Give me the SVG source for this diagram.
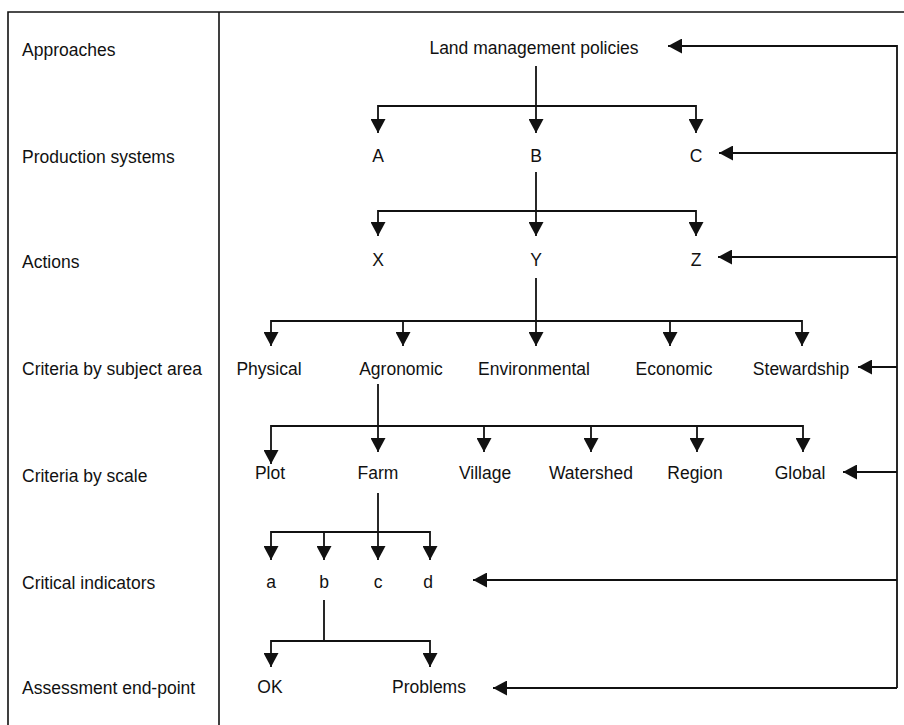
<svg xmlns="http://www.w3.org/2000/svg" width="904" height="725" viewBox="0 0 904 725">
<style>
text { font-family: "Liberation Sans", Arial, sans-serif; font-size: 17.5px; fill: #111; }
.lbl { text-anchor: start; }
.node text { text-anchor: middle; }
.frame { stroke: #111; stroke-width: 1.6; fill: none; }
.conn path { stroke: #111; stroke-width: 1.8; fill: none; marker-end: url(#ah); }
</style>
<defs>
<marker id="ah" markerUnits="userSpaceOnUse" viewBox="0 0 14 15" refX="14" refY="7.5" markerWidth="14" markerHeight="15" orient="auto">
<path d="M0,0 L14,7.5 L0,15 Z" fill="#111"/>
</marker>
</defs>
<rect width="904" height="725" fill="#fff"/>
<g id="frame">
<path class="frame" d="M8,725 V12 H904 M219,12 V725"/>
</g>
<g id="levels">
<text class="lbl" x="22" y="56">Approaches</text>
<text class="lbl" x="22" y="163">Production systems</text>
<text class="lbl" x="22" y="268">Actions</text>
<text class="lbl" x="22" y="375">Criteria by subject area</text>
<text class="lbl" x="22" y="482">Criteria by scale</text>
<text class="lbl" x="22" y="589">Critical indicators</text>
<text class="lbl" x="22" y="694">Assessment end-point</text>
</g>
<g class="conn" id="connectors">
<path d="M536,66 V133"/>
<path d="M536,106 H378 V133"/>
<path d="M536,106 H696 V133"/>
<path d="M536,172 V236"/>
<path d="M536,211 H378 V236"/>
<path d="M536,211 H696 V236"/>
<path d="M536,278 V346"/>
<path d="M536,321 H271 V346"/>
<path d="M536,321 H403 V346"/>
<path d="M536,321 H670 V346"/>
<path d="M536,321 H802 V346"/>
<path d="M378,384 V452"/>
<path d="M378,426 H271 V464"/>
<path d="M378,426 H484 V452"/>
<path d="M378,426 H591 V452"/>
<path d="M378,426 H697 V452"/>
<path d="M378,426 H803 V452"/>
<path d="M378,493 V560"/>
<path d="M378,532 H271 V560"/>
<path d="M378,532 H324 V560"/>
<path d="M378,532 H430 V560"/>
<path d="M324,600 V641 H271 V667"/>
<path d="M324,641 H430 V667"/>
<path d="M897,688 V46 H668"/>
<path d="M897,153 H719"/>
<path d="M897,257 H718"/>
<path d="M897,367 H858"/>
<path d="M897,472 H843"/>
<path d="M897,580 H473"/>
<path d="M897,688 H493"/>
</g>
<g class="node" id="n-land"><text x="534" y="54">Land management policies</text></g>
<g class="node" id="n-A"><text x="378" y="162">A</text></g>
<g class="node" id="n-B"><text x="536" y="162">B</text></g>
<g class="node" id="n-C"><text x="696" y="162">C</text></g>
<g class="node" id="n-X"><text x="378" y="266">X</text></g>
<g class="node" id="n-Y"><text x="536" y="266">Y</text></g>
<g class="node" id="n-Z"><text x="696" y="266">Z</text></g>
<g class="node" id="n-physical"><text x="269" y="375">Physical</text></g>
<g class="node" id="n-agronomic"><text x="401" y="375">Agronomic</text></g>
<g class="node" id="n-environmental"><text x="534" y="375">Environmental</text></g>
<g class="node" id="n-economic"><text x="674" y="375">Economic</text></g>
<g class="node" id="n-stewardship"><text x="801" y="375">Stewardship</text></g>
<g class="node" id="n-plot"><text x="270" y="479">Plot</text></g>
<g class="node" id="n-farm"><text x="378" y="479">Farm</text></g>
<g class="node" id="n-village"><text x="485" y="479">Village</text></g>
<g class="node" id="n-watershed"><text x="591" y="479">Watershed</text></g>
<g class="node" id="n-region"><text x="695" y="479">Region</text></g>
<g class="node" id="n-global"><text x="800" y="479">Global</text></g>
<g class="node" id="n-a"><text x="271" y="588">a</text></g>
<g class="node" id="n-b"><text x="324" y="588">b</text></g>
<g class="node" id="n-c"><text x="378" y="588">c</text></g>
<g class="node" id="n-d"><text x="428" y="588">d</text></g>
<g class="node" id="n-ok"><text x="270" y="693">OK</text></g>
<g class="node" id="n-problems"><text x="429" y="693">Problems</text></g>
</svg>
